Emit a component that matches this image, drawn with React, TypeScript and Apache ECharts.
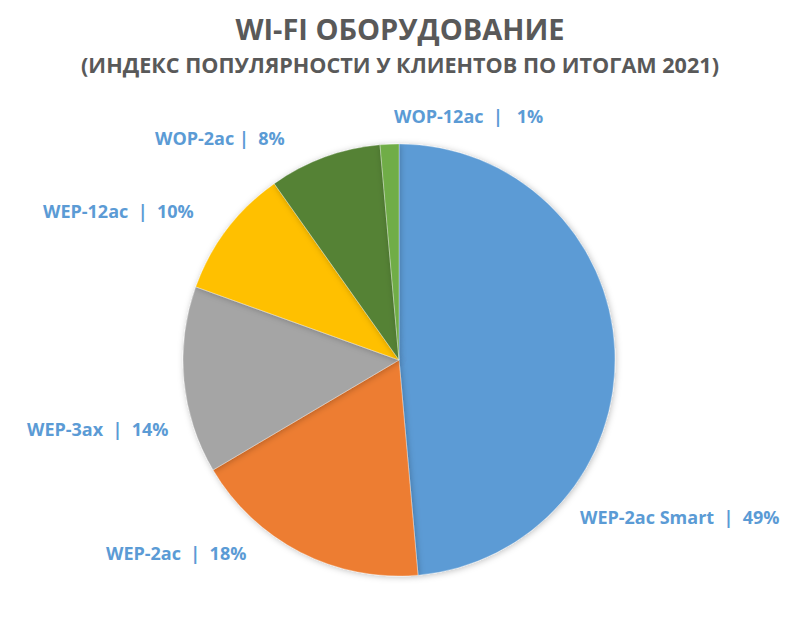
import React, { useEffect, useRef } from "react";
import * as echarts from "echarts";

const categories = ["WEP-2ac Smart", "WEP-2ac", "WEP-3ax", "WEP-12ac", "WOP-2ac", "WOP-12ac"];
const values = [48.6, 17.9, 14.0, 9.7, 8.4, 1.4];
const colors = ["#5B9BD5", "#ED7D31", "#A5A5A5", "#FFC000", "#548235", "#70AD47"];
const separators = ["  |  ", "  |  ", "  |  ", "  |  ", " |  ", "  |   "];
// label anchor positions (left edge, vertical middle) in px
const labelPos: [number, number][] = [
  [580, 517],
  [106, 553],
  [27, 429],
  [43, 211],
  [155, 138],
  [394, 116],
];

const titleText = "WI-FI ОБОРУДОВАНИЕ";
const subtitleText = "(ИНДЕКС ПОПУЛЯРНОСТИ У КЛИЕНТОВ ПО ИТОГАМ 2021)";

export default function App() {
  const ref = useRef<HTMLDivElement>(null);
  useEffect(() => {
    document.body.style.margin = "0";
    const chart = echarts.init(ref.current!, null, { renderer: "svg" });
    const font = "'Open Sans', sans-serif";
    chart.setOption({
      animation: false,
      backgroundColor: "#ffffff",
      title: [
        {
          text: titleText,
          left: "center",
          top: 14,
          padding: 0,
          textStyle: { fontFamily: font, fontWeight: "bold", fontSize: 29, color: "#595959" },
        },
        {
          text: subtitleText,
          left: "center",
          top: 53,
          padding: 0,
          textStyle: { fontFamily: font, fontWeight: "bold", fontSize: 21.6, color: "#595959" },
        },
      ],
      series: [
        {
          type: "pie",
          center: [399, 360],
          radius: 216,
          startAngle: 90,
          clockwise: true,
          avoidLabelOverlap: false,
          itemStyle: {
            borderWidth: 0.5,
            borderColor: "rgba(255,255,255,0.6)",
            shadowBlur: 6,
            shadowColor: "rgba(0,0,0,0.25)",
            shadowOffsetX: 1,
            shadowOffsetY: 1,
          },
          label: {
            show: true,
            position: "outside",
            fontFamily: font,
            fontWeight: "bold",
            fontSize: 18,
            color: "#5B9BD5",
            formatter: (p: any) => `${p.name}${separators[p.dataIndex]}${Math.round(p.percent)}%`,
          },
          labelLine: { show: false },
          labelLayout: (params: any) => {
            const pos = labelPos[params.dataIndex];
            return { x: pos[0], y: pos[1], align: "left", verticalAlign: "middle" };
          },
          data: categories.map((c, i) => ({
            name: c,
            value: values[i],
            itemStyle: { color: colors[i] },
          })),
        },
      ],
    });
    return () => chart.dispose();
  }, []);
  return <div ref={ref} style={{ width: 800, height: 637 }} />;
}
